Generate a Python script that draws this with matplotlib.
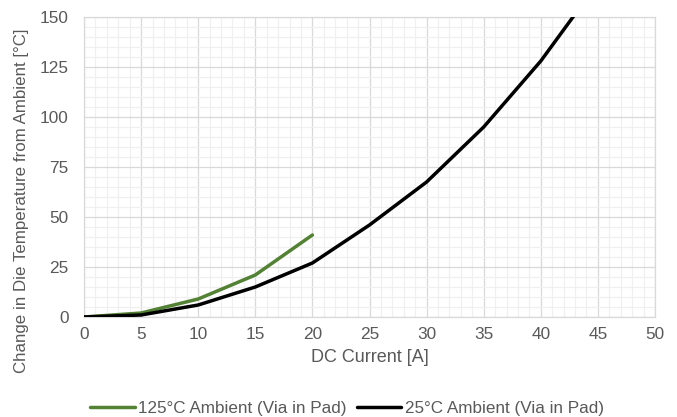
import matplotlib
matplotlib.use("Agg")
import matplotlib.pyplot as plt
from matplotlib.ticker import MultipleLocator

plt.rcParams['font.family'] = ['Liberation Sans', 'DejaVu Sans']

x_125 = [0, 5, 10, 15, 20]
y_125 = [0, 2, 9, 21, 41]
x_25 = [0, 5, 10, 15, 20, 25, 30, 35, 40, 45]
y_25 = [0, 1, 6, 15, 27, 46, 67.5, 95, 128, 167]

label_125 = "125°C Ambient (Via in Pad)"
label_25 = "25°C Ambient (Via in Pad)"

fig = plt.figure(figsize=(6.77, 4.17), dpi=100)
ax = fig.add_axes([84/677, 1 - 317/417, (655-84)/677, (317-17)/417])

ax.plot(x_125, y_125, color="#548235", lw=2.5, label=label_125, zorder=3, solid_capstyle='round')
ax.plot(x_25, y_25, color="#000000", lw=2.5, label=label_25, zorder=3, solid_capstyle='round')

ax.set_xlim(0, 50)
ax.set_ylim(0, 150)
ax.xaxis.set_major_locator(MultipleLocator(5))
ax.xaxis.set_minor_locator(MultipleLocator(1))
ax.yaxis.set_major_locator(MultipleLocator(25))
ax.yaxis.set_minor_locator(MultipleLocator(5))
ax.grid(which='major', color='#d9d9d9', lw=0.9, zorder=1)
ax.grid(which='minor', color='#f0f0f0', lw=0.9, zorder=0)
ax.set_axisbelow(True)
for s in ax.spines.values():
    s.set_color('#d9d9d9')
    s.set_linewidth(0.9)
ax.tick_params(which='both', length=0, labelsize=12.4, labelcolor='#595959')
ax.tick_params(axis='x', pad=7)
ax.tick_params(axis='y', pad=11)

ax.set_xlabel("DC Current [A]", fontsize=13, color='#595959', va='center')
ax.xaxis.set_label_coords(0.5, (317 - 358) / 300)
ax.set_ylabel("Change in Die Temperature from Ambient [°C]", fontsize=12.2, color='#595959', va='center')
ax.yaxis.set_label_coords((22 - 84) / 571, (317 - 201) / 300)

fig.legend(loc='center', bbox_to_anchor=(347/677, 1 - 408/417), ncol=2, frameon=False,
           fontsize=12.3, labelcolor='#595959', handlelength=2.6, handletextpad=0.2,
           columnspacing=0.6)

fig.savefig("out.png", dpi=100)
